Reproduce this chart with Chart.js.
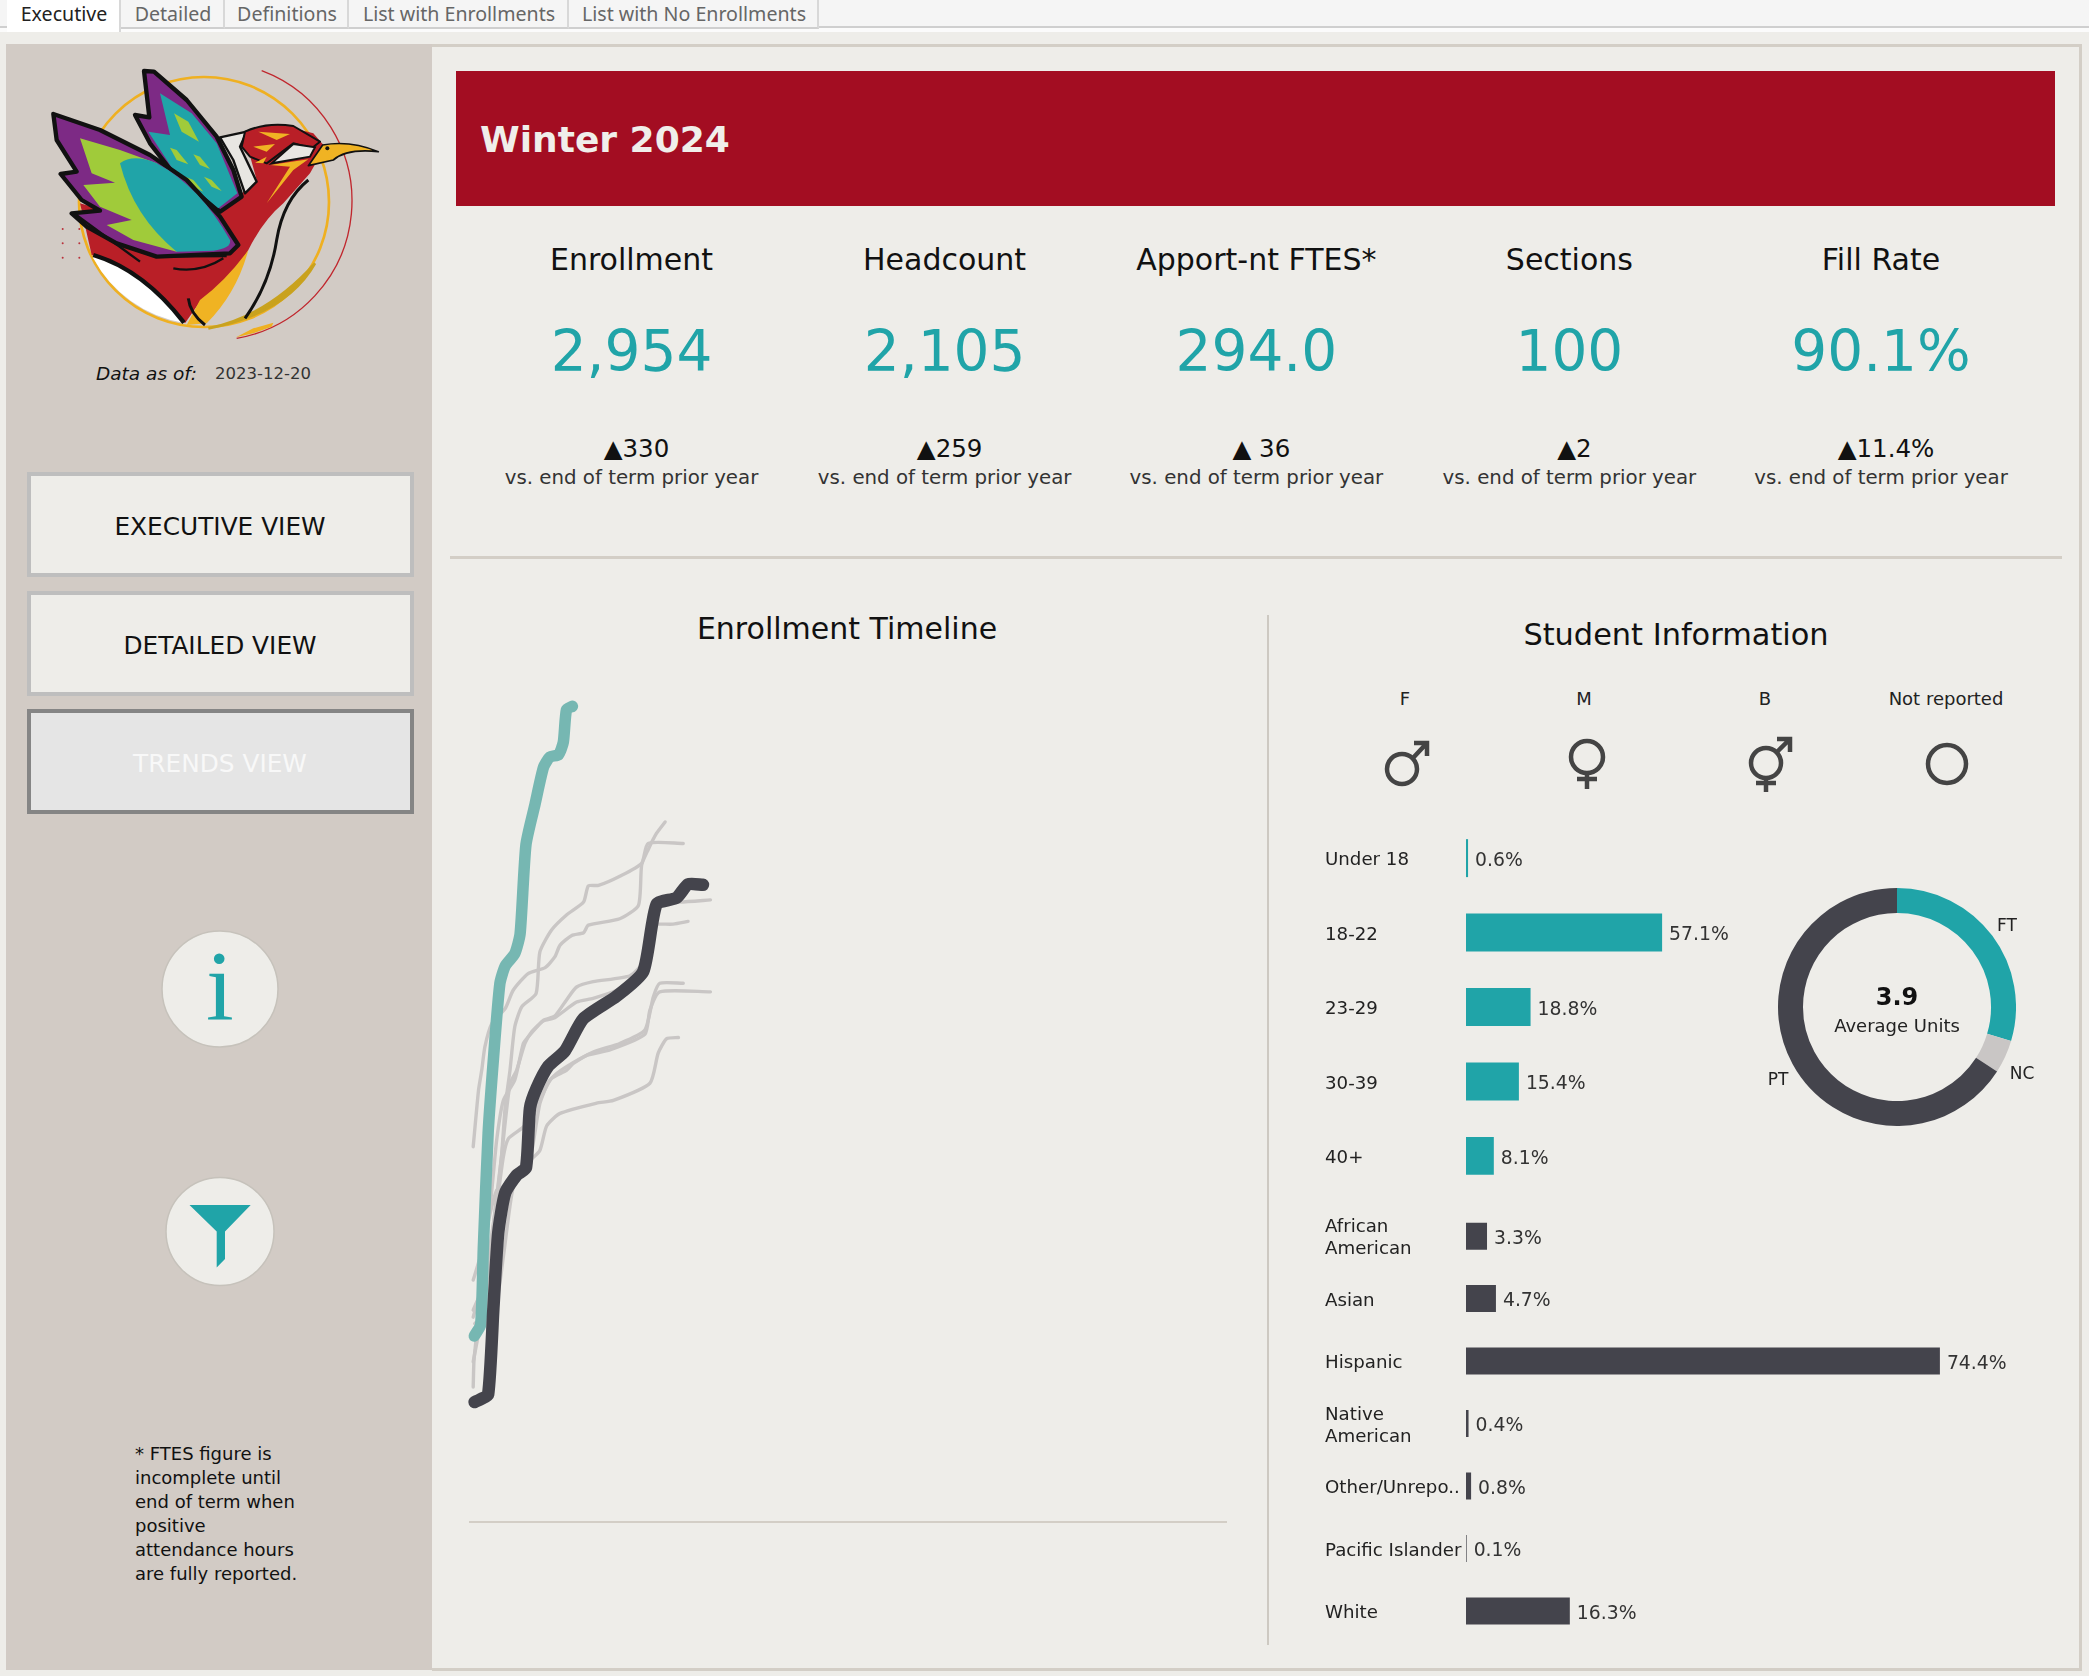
<!DOCTYPE html>
<html>
<head>
<meta charset="utf-8">
<title>Winter 2024</title>
<script src="https://cdn.jsdelivr.net/npm/chart.js@4"></script>
<style>
  html, body { margin: 0; padding: 0; }
  body { width: 2089px; height: 1676px; position: relative; overflow: hidden; background: #eeede9; font-family: "DejaVu Sans", sans-serif; color: #222; }
  canvas, svg { position: absolute; }
  .box { position: absolute; box-sizing: border-box; }
  .txt { position: absolute; white-space: nowrap; }
</style>
</head>
<body>
<div class="box" style="left:0;top:0;width:2089px;height:28px;background:#f5f5f5;border-bottom:2px solid #cfcfcf"></div>
<div class="box" style="left:0;top:28px;width:2089px;height:4px;background:#fbfbfb"></div>
<div class="box" style="left:432px;top:44px;width:1650px;height:1627px;border:3px solid #d3cec6;border-left:0"></div>
<div class="box" style="left:6px;top:44px;width:426px;height:1626px;background:#d2cbc5"></div>
<div class="box" style="left:456px;top:71px;width:1599px;height:135px;background:#a30d22"></div>
<div class="box" style="left:450px;top:556px;width:1612px;height:3px;background:#d3cec6"></div>
<div class="box" style="left:1267px;top:615px;width:2px;height:1030px;background:#cdc9c2"></div>

<!-- logo -->
<svg style="left:0;top:0" width="440" height="420" viewBox="0 0 1320 1260">
  <circle cx="612" cy="606" r="375" fill="none" stroke="#efb021" stroke-width="8"/>
  <path d="M785 212 A418 418 0 0 1 710 1015" fill="none" stroke="#c0262d" stroke-width="4"/>
  <path d="M945 790 Q860 940 625 985 Q800 950 945 790 Z" fill="#c9a21e" stroke="#c9a21e" stroke-width="8"/>
  <path d="M708 1012 L760 985 L820 968 L815 980 L760 1000 Z" fill="#efb021"/>
  <g fill="#b9323c"><circle cx="188" cy="687" r="3"/><circle cx="238" cy="687" r="3"/><circle cx="188" cy="730" r="3"/><circle cx="238" cy="730" r="3"/><circle cx="188" cy="773" r="3"/><circle cx="238" cy="773" r="3"/></g>
  <path d="M280 765 Q430 810 550 968 A375 375 0 0 1 280 775 Z" fill="#fff"/>
  <path d="M240 610 L275 765 Q430 810 555 970 L600 905 Q700 830 745 750 Q790 660 850 610 L930 520 L975 440 L940 400 L830 372 L730 395 L770 540 L660 640 L690 740 Z" fill="#b91f27"/>
  <path d="M600 900 Q680 840 745 750 Q710 880 620 970 L560 975 Z" fill="#f0b323"/>
  <path d="M280 765 Q430 810 552 968" fill="none" stroke="#111" stroke-width="13"/>
  <path d="M735 955 Q810 850 830 720 Q850 600 925 540" fill="none" stroke="#111" stroke-width="9"/>
  <path d="M565 895 Q570 940 615 975" fill="none" stroke="#111" stroke-width="9"/>
  <path d="M432 213 L462 215 L560 300 L650 410 L700 510 L725 590 L660 635 L520 520 L450 430 L405 345 L448 352 Z" fill="#7d2a85" stroke="#111" stroke-width="13" stroke-linejoin="round"/>
  <path d="M480 280 L575 340 L650 430 L712 580 L655 625 L520 510 L445 395 L510 405 Z" fill="#20a4a8"/>
  <g fill="#a0cb3a">
    <polygon points="522,340 565,365 597,425 545,395"/><polygon points="510,443 530,450 565,493 530,480"/>
    <polygon points="580,463 600,470 630,507 600,495"/><polygon points="556,530 580,540 610,575 580,560"/>
    <polygon points="612,530 635,540 665,573 635,560"/>
  </g>
  <path d="M160 342 L300 390 L450 465 L560 540 L660 650 L715 735 L690 760 L470 770 L350 730 L260 680 L215 640 L300 632 L245 600 L182 522 L230 515 L170 420 Z" fill="#7d2a85" stroke="#111" stroke-width="13" stroke-linejoin="round"/>
  <path d="M240 415 L360 450 L470 490 L600 620 L530 755 L400 720 L320 675 L395 660 L300 620 L250 555 L345 548 L275 520 Z" fill="#a0cb3a"/>
  <path d="M360 490 Q400 460 470 490 Q600 560 690 720 Q695 745 640 752 L530 755 Q400 650 360 490 Z" fill="#20a4a8"/>
  <path d="M225 642 L420 785 M465 770 L680 768 M520 805 Q600 820 670 775" fill="none" stroke="#111" stroke-width="7"/>
  <path d="M660 412 L740 395 L720 440 L770 545 L735 580 L700 480 Z" fill="#e8e6e2" stroke="#111" stroke-width="7" stroke-linejoin="round"/>
  <path d="M735 395 Q800 365 880 378 L960 425 L935 445 L880 430 L800 490 L750 470 L725 440 Z" fill="#b91f27" stroke="#111" stroke-width="6" stroke-linejoin="round"/>
  <g fill="#f0b323"><polygon points="775,395 870,402 830,420"/><polygon points="760,440 825,432 800,455"/><polygon points="765,488 800,470 790,490"/>
    <polygon points="800,610 870,500 810,495 925,478 880,510"/></g>
  <path d="M880 432 L945 442 L930 470 L815 490 Z" fill="#e8e6e2" stroke="#111" stroke-width="6"/>
  <path d="M925 497 L968 435 Q1050 420 1135 455 Q1040 445 1000 480 Z" fill="#f0b323" stroke="#111" stroke-width="5" stroke-linejoin="round"/>
  <circle cx="982" cy="445" r="6" fill="#111"/>
</svg>

<!-- funnel and info icon -->
<svg style="left:160px;top:925px" width="120" height="125" viewBox="160 925 120 125">
  <circle cx="220" cy="989" r="58" fill="#eeede9" stroke="#c6c2bb" stroke-width="1.5"/>
</svg>
<svg style="left:160px;top:1172px" width="120" height="120" viewBox="160 1172 120 120">
  <circle cx="220" cy="1231.5" r="54" fill="#eeede9" stroke="#c6c2bb" stroke-width="1.5"/>
  <polygon points="189.5,1205 250.7,1205 225,1231.5 225,1259 216.7,1267.5 216.7,1231.5" fill="#20a4a8"/>
</svg>

<!-- gender icons -->
<svg style="left:1370px;top:725px" width="600" height="80" viewBox="1370 725 600 80" fill="none" stroke="#444" stroke-width="4.5">
  <circle cx="1402" cy="769" r="15"/><path d="M1413 758 L1426 744 M1414 743 L1427 743 L1427 756"/>
  <circle cx="1587" cy="757" r="16"/><path d="M1587 773 L1587 789 M1577 779 L1597 779"/>
  <circle cx="1766" cy="763" r="15"/><path d="M1777 752 L1789 740 M1777 739 L1790 739 L1790 752 M1766 778 L1766 792 M1756 783 L1776 783"/>
  <circle cx="1947" cy="764" r="19"/>
</svg>

<canvas id="timeline" width="773" height="844" style="left:454px;top:680px"></canvas>
<!-- the y scale keeps half a label height free at both ends, so these run taller than the rows -->
<canvas id="ageChart" width="560" height="394" style="left:1325px;top:810px"></canvas>
<canvas id="ethnicityChart" width="720" height="470" style="left:1325px;top:1194px"></canvas>
<canvas id="unitsChart" width="238" height="238" style="left:1778px;top:888px"></canvas>

<script>
const tabNames = ['Executive', 'Detailed', 'Definitions', 'List with Enrollments', 'List with No Enrollments'];
const tabEdges = [7, 121, 225, 349, 569, 819];

const kpiTitles = ['Enrollment', 'Headcount', 'Apport-nt FTES*', 'Sections', 'Fill Rate'];
const kpiValues = ['2,954', '2,105', '294.0', '100', '90.1%'];
const kpiChanges = ['▲330', '▲259', '▲ 36', '▲2', '▲11.4%'];
const kpiCenters = [631.5, 944.6, 1256.4, 1569.4, 1881];

const genderNames = ['F', 'M', 'B', 'Not reported'];
const genderCenters = [1405, 1584, 1765, 1946];

const ageLabels = ['Under 18', '18-22', '23-29', '30-39', '40+'];
const ageValues = [0.6, 57.1, 18.8, 15.4, 8.1];

const ethnicityLabels = [['African', 'American'], 'Asian', 'Hispanic', ['Native', 'American'], 'Other/Unrepo..', 'Pacific Islander', 'White'];
const ethnicityValues = [3.3, 4.7, 74.4, 0.4, 0.8, 0.1, 16.3];

const unitLabels = ['FT', 'NC', 'PT'];
const unitValues = [29.6, 4.5, 65.9];

// enrollment by day of the registration window
const currentTerm = [[0.8, 1783], [2, 1804], [2.5, 1947], [3.4, 2160], [4.4, 2299], [5.6, 2438], [6.6, 2471], [8.4, 2494], [9.4, 2531], [10.5, 2697], [12.2, 2772], [13.8, 2841], [15, 2860], [16.6, 2864], [17.5, 2887], [18.1, 2948], [19.2, 2954]];
const priorYearTerm = [[0.85, 1660], [1.9, 1665], [3.4, 1674], [4.4, 1836], [5.3, 1975], [6.6, 2049], [8.75, 2082], [10.5, 2096], [11.25, 2207], [12.5, 2244], [14.7, 2285], [17.8, 2313], [21.25, 2373], [27.5, 2415], [32.5, 2461], [35, 2586], [38.75, 2598], [40.9, 2623], [43.7, 2622]];
const olderTermA = [[0.6, 1818], [2.8, 1899], [4.4, 1992], [5.9, 2116], [6.6, 2209], [7.5, 2277], [8.4, 2358], [9.7, 2395], [12.4, 2420], [13.1, 2497], [15.3, 2538], [18.1, 2566], [21.3, 2590], [22.2, 2620], [24.1, 2621], [28.1, 2638], [32.2, 2662], [33.4, 2699], [40, 2699]];
const olderTermB = [[0.6, 2135], [1.6, 2240], [2.2, 2277], [2.8, 2321], [4.1, 2364], [6.6, 2392], [8.1, 2426], [10.9, 2457], [14.1, 2468], [15.9, 2488], [16.9, 2510], [19.1, 2528], [21.3, 2533], [22.2, 2547], [28.1, 2559], [31.6, 2584], [32.2, 2659], [33.4, 2687], [35, 2718], [36.6, 2739]];
const olderTermC = [[0.6, 1887], [1.9, 1930], [3.75, 2023], [5, 2147], [6.25, 2221], [8.4, 2259], [10, 2327], [10.9, 2339], [13.75, 2370], [15.9, 2378], [18.1, 2408], [20, 2432], [23.1, 2442], [30, 2453], [32.8, 2482], [34.1, 2556], [35.6, 2590], [39.4, 2590], [45.1, 2594]];
const olderTermD = [[0.6, 1735], [2.5, 1837], [4.4, 1992], [5.9, 2116], [7.5, 2252], [8.75, 2277], [10.3, 2327], [11.6, 2349], [13.75, 2369], [15.9, 2375], [20, 2404], [23.1, 2411], [27.5, 2426], [31.9, 2457], [32.8, 2470], [34.1, 2547], [35.6, 2549], [38.1, 2549], [40.9, 2554]];
const olderTermE = [[0.6, 1831], [3.4, 1899], [5, 2023], [6.25, 2116], [7.2, 2150], [9.7, 2169], [11.6, 2187], [13.4, 2228], [15.3, 2262], [18.1, 2277], [19.4, 2290], [23.1, 2311], [28.1, 2327], [32.8, 2352], [34.4, 2414], [35.6, 2439], [40, 2439]];
const olderTermF = [[0.9, 1806], [4.7, 1837], [6.25, 1930], [8.1, 2060], [10.3, 2094], [11.6, 2128], [13.1, 2215], [14.7, 2255], [16.25, 2271], [18.1, 2284], [21.9, 2305], [26.25, 2315], [32.8, 2344], [33.75, 2389], [35.6, 2423], [45.1, 2423]];
const olderTermG = [[0.6, 1688], [0.75, 1738], [1.25, 1787], [2.8, 1961], [5, 2054], [7.5, 2066], [11.25, 2109], [13.1, 2128], [14.4, 2174], [16.9, 2197], [23.75, 2216], [26.9, 2221], [33.75, 2253], [35.3, 2309], [36.9, 2336], [39.1, 2338]];
const olderTerms = [olderTermA, olderTermB, olderTermC, olderTermD, olderTermE, olderTermF, olderTermG];

const teal = '#20a4a8';
const slate = '#44444c';

function addText(text, x, y, style) {
  const el = document.createElement('div');
  el.className = 'txt';
  el.textContent = text;
  el.style.cssText = `left:${x}px;top:${y}px;transform:translate(-50%,-50%);${style}`;
  document.body.appendChild(el);
  return el;
}

function addLeftText(text, x, y, style) {
  return addText(text, x, y, `transform:translate(0,-50%);${style}`);
}

// tabs
tabNames.forEach((name, i) => {
  const left = tabEdges[i];
  const right = tabEdges[i + 1];
  const tab = document.createElement('div');
  tab.className = 'box';
  tab.style.cssText = `left:${left}px;top:0;width:${right - left}px;height:${i === 0 ? 32 : 29}px;border-right:2px solid #d8d8d8;${i === 0 ? 'background:#fff;' : 'background:#f5f5f5;border-bottom:2px solid #cfcfcf;'}`;
  document.body.appendChild(tab);
  addText(name, (left + right) / 2, 12.5, `font:19.6px "Noto Sans",sans-serif;color:${i === 0 ? '#222' : '#666'}`);
});

// sidebar
addLeftText('Data as of:', 96, 373, 'font:italic 18.5px "DejaVu Sans";color:#111');
addLeftText('2023-12-20', 215, 373, 'font:16.5px "DejaVu Sans";color:#333');

[['EXECUTIVE VIEW', 472, '#bebebe', '#eeede9', '#111'], ['DETAILED VIEW', 591, '#bebebe', '#eeede9', '#111'], ['TRENDS VIEW', 709, '#858585', '#e5e5e5', '#f8f8f8']].forEach((b) => {
  const btn = document.createElement('div');
  btn.className = 'box';
  btn.style.cssText = `left:27px;top:${b[1]}px;width:387px;height:105px;border:4px solid ${b[2]};background:${b[3]}`;
  document.body.appendChild(btn);
  addText(b[0], 220, b[1] + 53.5, `font:24.8px "DejaVu Sans";color:${b[4]}`);
});

addText('i', 220, 985, `font:100px "Liberation Serif",serif;color:${teal}`);

['* FTES figure is', 'incomplete until', 'end of term when', 'positive', 'attendance hours', 'are fully reported.'].forEach((line, i) => {
  addLeftText(line, 135, 1453 + i * 24, 'font:18px "DejaVu Sans";color:#111');
});

// header and kpis
addLeftText('Winter 2024', 480, 139, 'font:bold 36px "DejaVu Sans";color:#f0eeea');
kpiCenters.forEach((x, i) => {
  addText(kpiTitles[i], x, 259, 'font:30px "DejaVu Sans";color:#111');
  addText(kpiValues[i], x, 351, `font:56.5px "DejaVu Sans";color:${teal}`);
  addText(kpiChanges[i], x + 5, 448, 'font:24.5px "DejaVu Sans";color:#111');
  addText('vs. end of term prior year', x, 477, 'font:19.8px "DejaVu Sans";color:#333');
});

// section titles
addText('Enrollment Timeline', 847, 628, 'font:30px "DejaVu Sans";color:#111');
addText('Student Information', 1676, 634, 'font:30.4px "DejaVu Sans";color:#111');
genderCenters.forEach((x, i) => {
  addText(genderNames[i], x, 698, 'font:18px "DejaVu Sans";color:#222');
});

// donut labels
addText('3.9', 1897, 997, 'font:bold 24px "DejaVu Sans";color:#111');
addText('Average Units', 1897, 1025, 'font:18px "DejaVu Sans";color:#222');
addText('FT', 2007, 925, 'font:17px "DejaVu Sans";color:#222');
addText('NC', 2022, 1073, 'font:17px "DejaVu Sans";color:#222');
addText('PT', 1778, 1079, 'font:17px "DejaVu Sans";color:#222');

Chart.defaults.animation = false;
Chart.defaults.responsive = false;
Chart.defaults.font.family = '"DejaVu Sans", sans-serif';
Chart.defaults.plugins.legend.display = false;
Chart.defaults.plugins.tooltip.enabled = false;

const toPoints = (rows) => rows.map((r) => ({ x: r[0], y: r[1] }));
const lineSet = (rows, color, width, order) => ({
  data: toPoints(rows),
  borderColor: color,
  borderWidth: width,
  order,
  tension: 0.2,
  pointRadius: 0,
  borderCapStyle: 'round',
  borderJoinStyle: 'round',
  clip: false,
});

new Chart(document.getElementById('timeline'), {
  type: 'line',
  data: {
    datasets: [
      lineSet(priorYearTerm, slate, 12.5, 0),
      lineSet(currentTerm, '#76b7b2', 11.5, 1),
      ...olderTerms.map((rows) => lineSet(rows, '#c9c6c5', 3.4, 2)),
    ],
  },
  options: {
    layout: { autoPadding: false, padding: { left: 16, bottom: 2 } },
    scales: {
      x: {
        type: 'linear',
        min: 0,
        max: 142,
        grid: { display: false, drawTicks: false },
        border: { display: true, color: '#d3cec6', width: 2 },
        ticks: { display: false },
      },
      y: { display: false, min: 1437, max: 3003 },
    },
  },
});

// percent label at the end of every bar
const barValueLabels = {
  id: 'barValueLabels',
  afterDatasetsDraw(chart) {
    const { ctx } = chart;
    const meta = chart.getDatasetMeta(0);
    ctx.save();
    ctx.font = '18.8px "DejaVu Sans"';
    ctx.fillStyle = '#333';
    ctx.textBaseline = 'middle';
    meta.data.forEach((bar, i) => {
      ctx.fillText(`${chart.data.datasets[0].data[i].toFixed(1)}%`, bar.x + 7, bar.y + 3);
    });
    ctx.restore();
  },
};

function barOptions(maxValue) {
  return {
    indexAxis: 'y',
    layout: { autoPadding: false },
    scales: {
      x: { display: false, min: 0, max: maxValue },
      y: {
        grid: { display: false, drawTicks: false },
        border: { display: false },
        afterFit: (scale) => { scale.width = 141; },
        ticks: { crossAlign: 'far', padding: 0, labelOffset: 2.5, autoSkip: false, color: '#222', font: { size: 18.2 } },
      },
    },
  };
}

new Chart(document.getElementById('ageChart'), {
  type: 'bar',
  data: { labels: ageLabels, datasets: [{ data: ageValues, backgroundColor: teal, categoryPercentage: 1, barPercentage: 0.51 }] },
  options: barOptions(122),
  plugins: [barValueLabels],
});

new Chart(document.getElementById('ethnicityChart'), {
  type: 'bar',
  data: { labels: ethnicityLabels, datasets: [{ data: ethnicityValues, backgroundColor: slate, categoryPercentage: 1, barPercentage: 0.432 }] },
  options: barOptions(90.9),
  plugins: [barValueLabels],
});

new Chart(document.getElementById('unitsChart'), {
  type: 'doughnut',
  data: { labels: unitLabels, datasets: [{ data: unitValues, backgroundColor: [teal, '#c9c6c5', slate], borderWidth: 0 }] },
  options: { cutout: '79%' },
});
</script>
</body>
</html>
